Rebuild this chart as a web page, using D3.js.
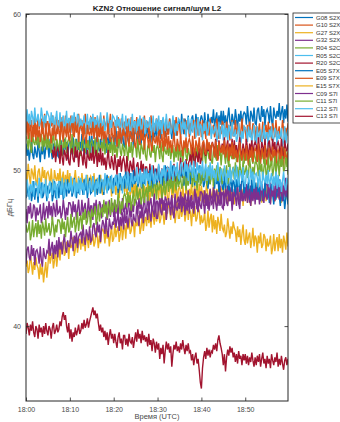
<!DOCTYPE html>
<html>
<head>
<meta charset="utf-8">
<script src="https://cdn.jsdelivr.net/npm/d3@7"></script>
<style>
  html, body { margin: 0; padding: 0; background: #fff; }
  svg { display: block; font-family: "Liberation Sans", Arial, sans-serif; }
</style>
</head>
<body>
<svg id="chart" width="340" height="422"></svg>
<script>
// KZN2 station, L2 signal-to-noise per satellite/signal, 18:00–19:00 UTC
const seriesNames = ["G08 S2X","G10 S2X","G27 S2X","G32 S2X","R04 S2C","R05 S2C","R20 S2C",
                     "E05 S7X","E09 S7X","E15 S7X","C09 S7I","C11 S7I","C12 S7I","C13 S7I"];
const seriesColors = ["#0072BD","#D95319","#EDB120","#7E2F8E","#77AC30","#4DBEEE","#A2142F",
                      "#0072BD","#D95319","#EDB120","#7E2F8E","#77AC30","#4DBEEE","#A2142F"];
const xTickLabels = ["18:00","18:10","18:20","18:30","18:40","18:50"];
const xTickMinutes = [0,10,20,30,40,50];
const yTickValues = [40,50,60];
const sampleStepMin = 0.25;   // one sample every 15 s

// dB-Hz, one value per 15 s from 18:00 (one row = 2.5 min)
const G08 = [
51.7,50.9,51.4,50.6,51.3,51.9,51.0,50.7,51.5,51.1, 50.8,51.8,51.2,50.5,51.5,51.0,51.7,50.7,51.4,51.6,
51.5,50.8,52.0,51.2,50.7,51.7,51.4,51.0,51.9,50.9, 50.8,51.7,51.9,51.2,51.0,52.0,51.3,51.8,50.7,51.6,
51.9,51.6,51.0,52.1,51.2,50.8,52.0,51.5,51.3,51.8, 51.4,52.3,51.2,51.7,52.1,51.0,51.9,51.3,52.2,51.1,
52.2,51.4,51.9,51.1,51.8,52.4,51.5,51.2,52.0,51.6, 51.4,52.4,51.8,51.1,52.1,51.6,52.3,51.3,52.0,52.2,
52.2,51.5,52.7,51.9,51.4,52.4,52.1,51.7,52.6,51.6, 51.5,52.4,52.6,51.9,51.7,52.7,52.0,52.5,51.4,52.3,
52.7,52.4,51.8,52.9,52.0,51.6,52.8,52.3,52.1,52.6, 52.2,53.1,52.0,52.5,52.9,51.8,52.7,52.1,53.0,51.9,
53.1,52.3,52.8,52.0,52.7,53.3,52.4,52.1,52.9,52.5, 52.3,53.3,52.7,52.0,53.0,52.5,53.2,52.2,52.9,53.1,
53.1,52.4,53.6,52.8,52.3,53.3,53.0,52.6,53.5,52.5, 52.4,53.3,53.5,52.8,52.6,53.6,52.9,53.4,52.3,53.2,
53.5,53.2,52.6,53.7,52.8,52.4,53.6,53.1,52.9,53.4, 53.0,53.9,52.8,53.3,53.7,52.6,53.5,52.9,53.8,52.7,
53.8,53.0,53.5,52.7,53.4,54.0,53.1,52.8,53.6,53.2, 52.9,53.9,53.3,52.6,53.6,53.1,53.8,52.8,53.5,53.7,
53.6,52.9,54.1,53.3,52.8,53.8,53.5,53.1,54.0,53.0, 52.9,53.8,54.0,53.3,53.1,54.1,53.4,53.9,52.8,53.7,
53.9,53.6,53.0,54.1,53.2,52.8,54.0,53.5,53.3,53.8, 53.4,54.3,53.2,53.7,54.1,53.0,53.9,53.3,54.2,53.1];
const G10 = [
53.3,53.1,52.4,53.4,52.7,53.2,52.2,52.9,53.5,52.5, 52.5,53.5,52.6,53.0,53.3,52.3,52.8,53.6,52.4,53.1,
53.1,52.2,53.3,52.8,53.5,52.5,52.7,53.4,53.2,52.3, 53.2,52.7,52.9,53.4,52.2,52.6,53.5,52.4,53.0,53.3,
52.4,53.5,52.6,53.2,52.3,53.4,53.0,52.5,53.6,52.7, 52.8,53.2,52.4,52.7,53.6,53.0,52.3,53.1,52.6,53.4,
53.3,53.1,52.4,53.4,52.7,53.2,52.2,52.9,53.5,52.5, 52.5,53.5,52.6,53.0,53.3,52.3,52.8,53.6,52.4,53.1,
53.0,52.1,53.2,52.7,53.4,52.4,52.6,53.3,53.1,52.2, 53.1,52.6,52.8,53.3,52.1,52.5,53.4,52.3,52.9,53.2,
52.3,53.4,52.5,53.1,52.2,53.3,52.9,52.4,53.5,52.6, 52.7,53.1,52.3,52.6,53.5,52.9,52.2,53.0,52.5,53.3,
53.1,52.9,52.2,53.2,52.5,53.0,52.0,52.7,53.3,52.3, 52.3,53.3,52.4,52.8,53.1,52.1,52.6,53.4,52.2,52.9,
52.9,52.0,53.1,52.6,53.3,52.3,52.5,53.2,53.0,52.1, 53.0,52.5,52.7,53.2,52.0,52.4,53.3,52.2,52.8,53.1,
52.1,53.2,52.3,52.9,52.0,53.1,52.7,52.2,53.3,52.4, 52.5,52.9,52.1,52.4,53.3,52.7,52.0,52.8,52.3,53.1,
53.0,52.8,52.1,53.1,52.4,52.9,51.9,52.6,53.2,52.2, 52.2,53.2,52.3,52.7,53.0,52.0,52.5,53.3,52.1,52.8,
52.7,51.8,52.9,52.4,53.1,52.1,52.3,53.0,52.8,51.9, 52.8,52.3,52.5,53.0,51.8,52.2,53.1,52.0,52.6,52.9,
52.0,53.1,52.2,52.8,51.9,53.0,52.6,52.1,53.2,52.3, 52.4,52.8,52.0,52.3,53.2,52.6,51.9,52.7,52.2,53.0];
const G27 = [
49.9,49.2,50.4,49.6,49.1,50.1,49.8,49.4,50.3,49.3, 49.0,49.9,50.1,49.4,49.2,50.2,49.5,50.0,48.9,49.8,
49.9,49.6,49.0,50.1,49.2,48.8,50.0,49.5,49.3,49.8, 49.2,50.1,49.0,49.5,49.9,48.8,49.7,49.1,50.0,48.9,
49.8,49.0,49.5,48.7,49.4,50.0,49.1,48.8,49.6,49.2, 48.8,49.8,49.2,48.5,49.5,49.0,49.7,48.7,49.4,49.6,
49.3,48.6,49.8,49.0,48.5,49.5,49.2,48.8,49.7,48.7, 48.4,49.3,49.5,48.8,48.6,49.6,48.9,49.4,48.3,49.2,
49.3,49.0,48.4,49.5,48.6,48.2,49.4,48.9,48.7,49.2, 48.6,49.5,48.4,48.9,49.3,48.2,49.1,48.5,49.4,48.3,
49.2,48.4,48.9,48.1,48.8,49.4,48.5,48.2,49.0,48.6, 48.3,49.3,48.7,48.0,49.0,48.5,49.2,48.2,48.9,49.1,
48.8,48.1,49.3,48.5,48.0,49.0,48.7,48.3,49.2,48.2, 48.0,48.9,49.1,48.4,48.2,49.2,48.5,49.0,47.9,48.8,
48.9,48.6,48.0,49.1,48.2,47.8,49.0,48.5,48.3,48.8, 48.3,49.2,48.1,48.6,49.0,47.9,48.8,48.2,49.1,48.0,
49.0,48.2,48.7,47.9,48.6,49.2,48.3,48.0,48.8,48.4, 48.1,49.1,48.5,47.8,48.8,48.3,49.0,48.0,48.7,48.9,
48.6,47.9,49.1,48.3,47.8,48.8,48.5,48.1,49.0,48.0, 47.8,48.7,48.9,48.2,48.0,49.0,48.3,48.8,47.7,48.6,
48.8,48.5,47.9,49.0,48.1,47.7,48.9,48.4,48.2,48.7, 48.3,49.2,48.1,48.6,49.0,47.9,48.8,48.2,49.1,48.0,
49.0,48.2,48.7,47.9,48.6,49.2,48.3,48.0,48.8,48.4, 48.2,49.2,48.6,47.9,48.9,48.4,49.1,48.1,48.8,49.0];
const G32 = [
47.5,46.6,47.7,47.2,47.9,46.9,47.1,47.8,47.6,46.7, 47.6,47.1,47.3,47.8,46.6,47.0,47.9,46.8,47.4,47.7,
46.9,48.0,47.1,47.7,46.8,47.9,47.5,47.0,48.1,47.2, 47.3,47.7,46.9,47.2,48.1,47.5,46.8,47.6,47.1,47.9,
47.9,47.7,47.0,48.0,47.3,47.8,46.8,47.5,48.1,47.1, 47.1,48.1,47.2,47.6,47.9,46.9,47.4,48.2,47.0,47.7,
47.7,46.8,47.9,47.4,48.1,47.1,47.3,48.0,47.8,46.9, 47.8,47.3,47.5,48.0,46.8,47.2,48.1,47.0,47.6,47.9,
47.0,48.1,47.2,47.8,46.9,48.0,47.6,47.1,48.2,47.3, 47.5,47.9,47.1,47.4,48.3,47.7,47.0,47.8,47.3,48.1,
48.1,47.9,47.2,48.2,47.5,48.0,47.0,47.7,48.3,47.3, 47.4,48.4,47.5,47.9,48.2,47.2,47.7,48.5,47.3,48.0,
48.0,47.1,48.2,47.7,48.4,47.4,47.6,48.3,48.1,47.2, 48.2,47.7,47.9,48.4,47.2,47.6,48.5,47.4,48.0,48.3,
47.5,48.6,47.7,48.3,47.4,48.5,48.1,47.6,48.7,47.8, 48.0,48.4,47.6,47.9,48.8,48.2,47.5,48.3,47.8,48.6,
48.6,48.4,47.7,48.7,48.0,48.5,47.5,48.2,48.8,47.8, 47.9,48.9,48.0,48.4,48.7,47.7,48.2,49.0,47.8,48.5,
48.6,47.7,48.8,48.3,49.0,48.0,48.2,48.9,48.7,47.8, 48.8,48.3,48.5,49.0,47.8,48.2,49.1,48.0,48.6,48.9,
48.0,49.1,48.2,48.8,47.9,49.0,48.6,48.1,49.2,48.3, 48.5,48.9,48.1,48.4,49.3,48.7,48.0,48.8,48.3,49.1,
49.1,48.9,48.2,49.2,48.5,49.0,48.0,48.7,49.3,48.3, 48.4,49.4,48.5,48.9,49.2,48.2,48.7,49.5,48.3,49.0];
const R04 = [
52.2,51.9,51.3,52.4,51.5,51.1,52.3,51.8,51.6,52.1, 51.6,52.5,51.4,51.9,52.3,51.2,52.1,51.5,52.4,51.3,
52.2,51.4,51.9,51.1,51.8,52.4,51.5,51.2,52.0,51.6, 51.2,52.2,51.6,50.9,51.9,51.4,52.1,51.1,51.8,52.0,
51.8,51.1,52.3,51.5,51.0,52.0,51.7,51.3,52.2,51.2, 50.9,51.8,52.0,51.3,51.1,52.1,51.4,51.9,50.8,51.7,
51.9,51.6,51.0,52.1,51.2,50.8,52.0,51.5,51.3,51.8, 51.2,52.1,51.0,51.5,51.9,50.8,51.7,51.1,52.0,50.9,
51.9,51.1,51.6,50.8,51.5,52.1,51.2,50.9,51.7,51.3, 50.9,51.9,51.3,50.6,51.6,51.1,51.8,50.8,51.5,51.7,
51.5,50.8,52.0,51.2,50.7,51.7,51.4,51.0,51.9,50.9, 50.6,51.5,51.7,51.0,50.8,51.8,51.1,51.6,50.5,51.4,
51.6,51.3,50.7,51.8,50.9,50.5,51.7,51.2,51.0,51.5, 50.9,51.8,50.7,51.2,51.6,50.5,51.4,50.8,51.7,50.6,
51.6,50.8,51.3,50.5,51.2,51.8,50.9,50.6,51.4,51.0, 50.6,51.6,51.0,50.3,51.3,50.8,51.5,50.5,51.2,51.4,
51.2,50.5,51.7,50.9,50.4,51.4,51.1,50.7,51.6,50.6, 50.4,51.3,51.5,50.8,50.6,51.6,50.9,51.4,50.3,51.2,
51.3,51.0,50.4,51.5,50.6,50.2,51.4,50.9,50.7,51.2, 50.7,51.6,50.5,51.0,51.4,50.3,51.2,50.6,51.5,50.4,
51.4,50.6,51.1,50.3,51.0,51.6,50.7,50.4,51.2,50.8, 50.5,51.5,50.9,50.2,51.2,50.7,51.4,50.4,51.1,51.3,
51.1,50.4,51.6,50.8,50.3,51.3,51.0,50.6,51.5,50.5, 50.3,51.2,51.4,50.7,50.5,51.5,50.8,51.3,50.2,51.1];
const R05 = [
52.8,53.9,53.0,53.6,52.7,53.8,53.4,52.9,54.0,53.1, 53.2,53.6,52.8,53.1,54.0,53.4,52.7,53.5,53.0,53.8,
53.6,53.4,52.7,53.7,53.0,53.5,52.5,53.2,53.8,52.8, 52.7,53.7,52.8,53.2,53.5,52.5,53.0,53.8,52.6,53.3,
53.3,52.4,53.5,53.0,53.7,52.7,52.9,53.6,53.4,52.5, 53.3,52.8,53.0,53.5,52.3,52.7,53.6,52.5,53.1,53.4,
52.5,53.6,52.7,53.3,52.4,53.5,53.1,52.6,53.7,52.8, 52.9,53.3,52.5,52.8,53.7,53.1,52.4,53.2,52.7,53.5,
53.4,53.2,52.5,53.5,52.8,53.3,52.3,53.0,53.6,52.6, 52.5,53.5,52.6,53.0,53.3,52.3,52.8,53.6,52.4,53.1,
53.1,52.2,53.3,52.8,53.5,52.5,52.7,53.4,53.2,52.3, 53.2,52.7,52.9,53.4,52.2,52.6,53.5,52.4,53.0,53.3,
52.4,53.5,52.6,53.2,52.3,53.4,53.0,52.5,53.6,52.7, 52.7,53.1,52.3,52.6,53.5,52.9,52.2,53.0,52.5,53.3,
53.2,53.0,52.3,53.3,52.6,53.1,52.1,52.8,53.4,52.4, 52.3,53.3,52.4,52.8,53.1,52.1,52.6,53.4,52.2,52.9,
52.8,51.9,53.0,52.5,53.2,52.2,52.4,53.1,52.9,52.0, 52.8,52.3,52.5,53.0,51.8,52.2,53.1,52.0,52.6,52.9,
51.9,53.0,52.1,52.7,51.8,52.9,52.5,52.0,53.1,52.2, 52.2,52.6,51.8,52.1,53.0,52.4,51.7,52.5,52.0,52.8,
52.7,52.5,51.8,52.8,52.1,52.6,51.6,52.3,52.9,51.9, 51.8,52.8,51.9,52.3,52.6,51.6,52.1,52.9,51.7,52.4,
52.4,51.5,52.6,52.1,52.8,51.8,52.0,52.7,52.5,51.6, 52.5,52.0,52.2,52.7,51.5,51.9,52.8,51.7,52.3,52.6];
const R20 = [
null,null,null,null,null,null,null,null,null,null, null,null,null,null,null,null,null,null,null,null,
null,null,null,null,51.3,50.8,51.5,50.5,51.2,51.4, 51.1,50.4,51.6,50.8,50.3,51.3,51.0,50.6,51.5,50.5,
50.3,51.2,51.4,50.7,50.5,51.5,50.8,51.3,50.2,51.1, 51.2,50.9,50.3,51.4,50.5,50.1,51.3,50.8,50.6,51.1,
50.6,51.5,50.4,50.9,51.3,50.2,51.1,50.5,51.4,50.3, 51.1,50.3,50.8,50.0,50.7,51.3,50.4,50.1,50.9,50.5,
50.0,51.0,50.4,49.7,50.7,50.2,50.9,49.9,50.6,50.8, 50.4,49.7,50.9,50.1,49.6,50.6,50.3,49.9,50.8,49.8,
49.4,50.3,50.5,49.8,49.6,50.6,49.9,50.4,49.3,50.2, 50.2,49.9,49.3,50.4,49.5,49.1,50.3,49.8,49.6,50.1,
49.4,50.3,49.2,49.7,50.1,49.0,49.9,49.3,50.2,49.1, 50.2,49.4,49.9,49.1,49.8,50.4,49.5,49.2,50.0,49.6,
49.8,50.8,50.2,49.5,50.5,50.0,50.7,49.7,50.4,50.6, 51.0,50.3,51.5,50.7,50.2,51.2,50.9,50.5,51.4,50.4,
50.7,51.6,51.8,51.1,50.9,51.9,51.2,51.7,50.6,51.5, 51.8,51.5,50.9,52.0,51.1,50.7,51.9,51.4,51.2,51.7,
51.2,52.1,51.0,51.5,51.9,50.8,51.7,51.1,52.0,50.9, 51.9,51.1,51.6,50.8,51.5,52.1,51.2,50.9,51.7,51.3,
51.0,52.0,51.4,50.7,51.7,51.2,51.9,50.9,51.6,51.8, 51.6,50.9,52.1,51.3,50.8,51.8,51.5,51.1,52.0,51.0,
50.8,51.7,51.9,51.2,51.0,52.0,51.3,51.8,50.7,51.6, 51.8,51.5,50.9,52.0,51.1,50.7,51.9,51.4,51.2,51.7];
const E05 = [
48.2,49.2,48.3,48.7,49.0,48.0,48.5,49.3,48.1,48.8, 48.8,47.9,49.0,48.5,49.2,48.2,48.4,49.1,48.9,48.0,
49.0,48.5,48.7,49.2,48.0,48.4,49.3,48.2,48.8,49.1, 48.2,49.3,48.4,49.0,48.1,49.2,48.8,48.3,49.4,48.5,
48.7,49.1,48.3,48.6,49.5,48.9,48.2,49.0,48.5,49.3, 49.3,49.1,48.4,49.4,48.7,49.2,48.2,48.9,49.5,48.5,
48.6,49.6,48.7,49.1,49.4,48.4,48.9,49.7,48.5,49.2, 49.3,48.4,49.5,49.0,49.7,48.7,48.9,49.6,49.4,48.5,
49.5,49.0,49.2,49.7,48.5,48.9,49.8,48.7,49.3,49.6, 48.8,49.9,49.0,49.6,48.7,49.8,49.4,48.9,50.0,49.1,
49.3,49.7,48.9,49.2,50.1,49.5,48.8,49.6,49.1,49.9, 49.9,49.7,49.0,50.0,49.3,49.8,48.8,49.5,50.1,49.1,
49.2,50.2,49.3,49.7,50.0,49.0,49.5,50.3,49.1,49.8, 49.9,49.0,50.1,49.6,50.3,49.3,49.5,50.2,50.0,49.1,
50.0,49.5,49.7,50.2,49.0,49.4,50.3,49.2,49.8,50.1, 49.1,50.2,49.3,49.9,49.0,50.1,49.7,49.2,50.3,49.4,
49.3,49.7,48.9,49.2,50.1,49.5,48.8,49.6,49.1,49.9, 49.7,49.5,48.8,49.8,49.1,49.6,48.6,49.3,49.9,48.9,
48.7,49.7,48.8,49.2,49.5,48.5,49.0,49.8,48.6,49.3, 49.2,48.3,49.4,48.9,49.6,48.6,48.8,49.5,49.3,48.4,
49.1,48.6,48.8,49.3,48.1,48.5,49.4,48.3,48.9,49.2, 48.1,49.2,48.3,48.9,48.0,49.1,48.7,48.2,49.3,48.4,
48.3,48.7,47.9,48.2,49.1,48.5,47.8,48.6,48.1,48.9, 48.6,48.4,47.7,48.7,48.0,48.5,47.5,48.2,48.8,47.8];
const E09 = [
52.2,53.1,52.0,52.5,52.9,51.8,52.7,52.1,53.0,51.9, 52.9,52.1,52.6,51.8,52.5,53.1,52.2,51.9,52.7,52.3,
52.0,53.0,52.4,51.7,52.7,52.2,52.9,51.9,52.6,52.8, 52.6,51.9,53.1,52.3,51.8,52.8,52.5,52.1,53.0,52.0,
51.9,52.8,53.0,52.3,52.1,53.1,52.4,52.9,51.8,52.7, 52.8,52.5,51.9,53.0,52.1,51.7,52.9,52.4,52.2,52.7,
52.2,53.1,52.0,52.5,52.9,51.8,52.7,52.1,53.0,51.9, 52.8,52.0,52.5,51.7,52.4,53.0,52.1,51.8,52.6,52.2,
51.8,52.8,52.2,51.5,52.5,52.0,52.7,51.7,52.4,52.6, 52.3,51.6,52.8,52.0,51.5,52.5,52.2,51.8,52.7,51.7,
51.4,52.3,52.5,51.8,51.6,52.6,51.9,52.4,51.3,52.2, 52.3,52.0,51.4,52.5,51.6,51.2,52.4,51.9,51.7,52.2,
51.6,52.5,51.4,51.9,52.3,51.2,52.1,51.5,52.4,51.3, 52.2,51.4,51.9,51.1,51.8,52.4,51.5,51.2,52.0,51.6,
51.2,52.2,51.6,50.9,51.9,51.4,52.1,51.1,51.8,52.0, 51.7,51.0,52.2,51.4,50.9,51.9,51.6,51.2,52.1,51.1,
50.8,51.7,51.9,51.2,51.0,52.0,51.3,51.8,50.7,51.6, 51.7,51.4,50.8,51.9,51.0,50.6,51.8,51.3,51.1,51.6,
51.0,51.9,50.8,51.3,51.7,50.6,51.5,50.9,51.8,50.7, 51.6,50.8,51.3,50.5,51.2,51.8,50.9,50.6,51.4,51.0,
50.6,51.6,51.0,50.3,51.3,50.8,51.5,50.5,51.2,51.4, 51.2,50.5,51.7,50.9,50.4,51.4,51.1,50.7,51.6,50.6,
50.3,51.2,51.4,50.7,50.5,51.5,50.8,51.3,50.2,51.1, 51.3,51.0,50.4,51.5,50.6,50.2,51.4,50.9,50.7,51.2];
const E15 = [
43.8,44.2,43.4,43.7,44.6,44.0,43.3,44.1,43.6,44.4, 43.9,43.7,43.0,44.0,43.3,43.8,42.8,43.5,44.1,43.1,
43.9,44.9,44.0,44.4,44.7,43.7,44.2,45.0,43.8,44.5, 45.1,44.2,45.3,44.8,45.5,44.5,44.7,45.4,45.2,44.3,
45.5,45.0,45.2,45.7,44.5,44.9,45.8,44.7,45.3,45.6, 44.9,46.0,45.1,45.7,44.8,45.9,45.5,45.0,46.1,45.2,
45.5,45.9,45.1,45.4,46.3,45.7,45.0,45.8,45.3,46.1, 46.2,46.0,45.3,46.3,45.6,46.1,45.1,45.8,46.4,45.4,
45.6,46.6,45.7,46.1,46.4,45.4,45.9,46.7,45.5,46.2, 46.5,45.6,46.7,46.2,46.9,45.9,46.1,46.8,46.6,45.7,
46.9,46.4,46.6,47.1,45.9,46.3,47.2,46.1,46.7,47.0, 46.4,47.5,46.6,47.2,46.3,47.4,47.0,46.5,47.6,46.7,
47.0,47.4,46.6,46.9,47.8,47.2,46.5,47.3,46.8,47.6, 47.7,47.5,46.8,47.8,47.1,47.6,46.6,47.3,47.9,46.9,
46.9,47.9,47.0,47.4,47.7,46.7,47.2,48.0,46.8,47.5, 47.3,46.4,47.5,47.0,47.7,46.7,46.9,47.6,47.4,46.5,
47.1,46.6,46.8,47.3,46.1,46.5,47.4,46.3,46.9,47.2, 46.0,47.1,46.2,46.8,45.9,47.0,46.6,46.1,47.2,46.3,
46.1,46.5,45.7,46.0,46.9,46.3,45.6,46.4,45.9,46.7, 46.3,46.1,45.4,46.4,45.7,46.2,45.2,45.9,46.5,45.5,
45.2,46.2,45.3,45.7,46.0,45.0,45.5,46.3,45.1,45.8, 45.6,44.7,45.8,45.3,46.0,45.0,45.2,45.9,45.7,44.8,
45.6,45.1,45.3,45.8,44.6,45.0,45.9,44.8,45.4,45.7, 44.8,45.9,45.0,45.6,44.7,45.8,45.4,44.9,46.0,45.1];
const C09 = [
44.0,44.9,45.1,44.4,44.2,45.2,44.5,45.0,43.9,44.8, 44.9,44.6,44.0,45.1,44.2,43.8,45.0,44.5,44.3,44.8,
44.7,45.6,44.5,45.0,45.4,44.3,45.2,44.6,45.5,44.4, 45.7,44.9,45.4,44.6,45.3,45.9,45.0,44.7,45.5,45.1,
45.1,46.1,45.5,44.8,45.8,45.3,46.0,45.0,45.7,45.9, 46.0,45.3,46.5,45.7,45.2,46.2,45.9,45.5,46.4,45.4,
45.5,46.4,46.6,45.9,45.7,46.7,46.0,46.5,45.4,46.3, 46.8,46.5,45.9,47.0,46.1,45.7,46.9,46.4,46.2,46.7,
46.5,47.4,46.3,46.8,47.2,46.1,47.0,46.4,47.3,46.2, 47.4,46.6,47.1,46.3,47.0,47.6,46.7,46.4,47.2,46.8,
46.7,47.7,47.1,46.4,47.4,46.9,47.6,46.6,47.3,47.5, 47.5,46.8,48.0,47.2,46.7,47.7,47.4,47.0,47.9,46.9,
46.9,47.8,48.0,47.3,47.1,48.1,47.4,47.9,46.8,47.7, 48.0,47.7,47.1,48.2,47.3,46.9,48.1,47.6,47.4,47.9,
47.5,48.4,47.3,47.8,48.2,47.1,48.0,47.4,48.3,47.2, 48.3,47.5,48.0,47.2,47.9,48.5,47.6,47.3,48.1,47.7,
47.5,48.5,47.9,47.2,48.2,47.7,48.4,47.4,48.1,48.3, 48.2,47.5,48.7,47.9,47.4,48.4,48.1,47.7,48.6,47.6,
47.5,48.4,48.6,47.9,47.7,48.7,48.0,48.5,47.4,48.3, 48.6,48.3,47.7,48.8,47.9,47.5,48.7,48.2,48.0,48.5,
48.1,49.0,47.9,48.4,48.8,47.7,48.6,48.0,48.9,47.8, 48.9,48.1,48.6,47.8,48.5,49.1,48.2,47.9,48.7,48.3,
48.1,49.1,48.5,47.8,48.8,48.3,49.0,48.0,48.7,48.9, 48.8,48.1,49.3,48.5,48.0,49.0,48.7,48.3,49.2,48.2];
const C11 = [
46.5,46.0,46.2,46.7,45.5,45.9,46.8,45.7,46.3,46.6, 45.7,46.8,45.9,46.5,45.6,46.7,46.3,45.8,46.9,46.0,
46.2,46.6,45.8,46.1,47.0,46.4,45.7,46.5,46.0,46.8, 46.8,46.6,45.9,46.9,46.2,46.7,45.7,46.4,47.0,46.0,
46.2,47.2,46.3,46.7,47.0,46.0,46.5,47.3,46.1,46.8, 47.1,46.2,47.3,46.8,47.5,46.5,46.7,47.4,47.2,46.3,
47.5,47.0,47.2,47.7,46.5,46.9,47.8,46.7,47.3,47.6, 47.0,48.1,47.2,47.8,46.9,48.0,47.6,47.1,48.2,47.3,
47.7,48.1,47.3,47.6,48.5,47.9,47.2,48.0,47.5,48.3, 48.5,48.3,47.6,48.6,47.9,48.4,47.4,48.1,48.7,47.7,
48.0,49.0,48.1,48.5,48.8,47.8,48.3,49.1,47.9,48.6, 48.9,48.0,49.1,48.6,49.3,48.3,48.5,49.2,49.0,48.1,
49.2,48.7,48.9,49.4,48.2,48.6,49.5,48.4,49.0,49.3, 48.6,49.7,48.8,49.4,48.5,49.6,49.2,48.7,49.8,48.9,
49.2,49.6,48.8,49.1,50.0,49.4,48.7,49.5,49.0,49.8, 49.8,49.6,48.9,49.9,49.2,49.7,48.7,49.4,50.0,49.0,
49.2,50.2,49.3,49.7,50.0,49.0,49.5,50.3,49.1,49.8, 49.9,49.0,50.1,49.6,50.3,49.3,49.5,50.2,50.0,49.1,
50.1,49.6,49.8,50.3,49.1,49.5,50.4,49.3,49.9,50.2, 49.4,50.5,49.6,50.2,49.3,50.4,50.0,49.5,50.6,49.7,
49.9,50.3,49.5,49.8,50.7,50.1,49.4,50.2,49.7,50.5, 50.5,50.3,49.6,50.6,49.9,50.4,49.4,50.1,50.7,49.7,
49.8,50.8,49.9,50.3,50.6,49.6,50.1,50.9,49.7,50.4, 50.5,49.6,50.7,50.2,50.9,49.9,50.1,50.8,50.6,49.7];
const C12 = [
48.4,49.4,48.8,48.1,49.1,48.6,49.3,48.3,49.0,49.2, 49.0,48.3,49.5,48.7,48.2,49.2,48.9,48.5,49.4,48.4,
48.2,49.1,49.3,48.6,48.4,49.4,48.7,49.2,48.1,49.0, 49.3,49.0,48.4,49.5,48.6,48.2,49.4,48.9,48.7,49.2,
48.7,49.6,48.5,49.0,49.4,48.3,49.2,48.6,49.5,48.4, 49.5,48.7,49.2,48.4,49.1,49.7,48.8,48.5,49.3,48.9,
48.6,49.6,49.0,48.3,49.3,48.8,49.5,48.5,49.2,49.4, 49.3,48.6,49.8,49.0,48.5,49.5,49.2,48.8,49.7,48.7,
48.6,49.5,49.7,49.0,48.8,49.8,49.1,49.6,48.5,49.4, 49.7,49.4,48.8,49.9,49.0,48.6,49.8,49.3,49.1,49.6,
49.3,50.2,49.1,49.6,50.0,48.9,49.8,49.2,50.1,49.0, 50.1,49.3,49.8,49.0,49.7,50.3,49.4,49.1,49.9,49.5,
49.4,50.4,49.8,49.1,50.1,49.6,50.3,49.3,50.0,50.2, 50.1,49.4,50.6,49.8,49.3,50.3,50.0,49.6,50.5,49.5,
49.4,50.3,50.5,49.8,49.6,50.6,49.9,50.4,49.3,50.2, 50.4,50.1,49.5,50.6,49.7,49.3,50.5,50.0,49.8,50.3,
49.7,50.6,49.5,50.0,50.4,49.3,50.2,49.6,50.5,49.4, 50.3,49.5,50.0,49.2,49.9,50.5,49.6,49.3,50.1,49.7,
49.3,50.3,49.7,49.0,50.0,49.5,50.2,49.2,49.9,50.1, 49.8,49.1,50.3,49.5,49.0,50.0,49.7,49.3,50.2,49.2,
48.9,49.8,50.0,49.3,49.1,50.1,49.4,49.9,48.8,49.7, 49.8,49.5,48.9,50.0,49.1,48.7,49.9,49.4,49.2,49.7,
49.1,50.0,48.9,49.4,49.8,48.7,49.6,49.0,49.9,48.8, 49.7,48.9,49.4,48.6,49.3,49.9,49.0,48.7,49.5,49.1];
const C13 = [
39.5,40.2,39.9,39.4,40.1,39.7,40.3,39.6,39.3,40.0, 39.8,39.2,40.1,39.6,39.9,39.3,40.0,39.5,40.2,39.7,
39.4,40.0,39.8,39.2,39.9,40.2,39.5,39.7,40.1,39.6, 39.8,40.3,40.0,40.6,40.9,40.4,40.7,40.0,39.6,40.2,
39.2,39.8,39.0,39.6,39.3,39.9,39.4,39.7,40.1,39.5, 39.7,40.2,39.8,40.4,39.9,40.1,40.5,39.9,40.3,40.6,
40.9,41.2,40.7,41.0,40.5,40.8,40.2,39.7,40.1,39.6, 39.9,39.3,39.7,39.1,39.6,38.8,39.4,39.8,39.2,39.5,
38.9,39.5,39.0,38.6,39.3,39.6,38.9,39.2,38.5,39.4, 39.4,38.8,39.2,38.7,39.5,39.0,38.9,39.3,38.6,39.1,
39.6,39.0,39.8,39.2,39.5,38.9,39.7,39.1,39.4,39.0, 39.3,38.7,39.5,38.8,39.1,38.4,39.2,38.9,38.3,39.0,
38.5,38.9,37.9,38.6,38.2,38.8,37.6,38.4,39.0,38.5, 38.9,38.3,38.7,37.4,38.2,38.8,38.5,39.0,38.4,38.7,
38.3,38.9,38.5,39.1,38.6,38.2,38.8,38.4,38.9,38.3, 38.4,37.8,38.2,37.5,38.0,38.3,37.6,37.9,37.2,36.4,
36.0,37.3,38.0,38.4,37.9,38.6,38.1,38.5,38.0,38.4, 38.3,38.8,38.5,38.9,38.4,39.1,39.4,38.9,38.6,38.2,
37.5,38.2,37.1,38.0,38.5,38.1,38.7,38.3,38.6,38.0, 38.3,37.7,38.2,37.6,38.4,37.9,38.1,37.5,38.2,37.8,
38.2,37.6,38.1,37.5,38.0,37.7,38.3,37.8,37.4,38.0, 37.5,38.1,37.7,38.2,37.4,37.9,38.3,37.6,37.9,37.3,
38.1,37.6,37.9,37.3,38.2,37.8,37.5,38.0,37.7,38.3, 37.4,37.9,37.5,38.1,37.6,37.2,37.8,38.0,37.5,37.9];

const seriesValues = [G08,G10,G27,G32,R04,R05,R20,E05,E09,E15,C09,C11,C12,C13];

const svg = d3.select("#chart");
const plot = { left: 26, right: 288, top: 14, bottom: 401 };

const x = d3.scaleLinear().domain([0, 59.75]).range([plot.left, plot.right]);
const y = d3.scaleLinear().domain([35.2, 60]).range([plot.bottom, plot.top]);

const axisColor = "#262626";
const labelColor = "#4a4a4a";

// series lines, drawn in legend order so later ones sit on top
svg.append("clipPath").attr("id", "plotClip")
  .append("rect").attr("x", plot.left).attr("y", plot.top)
  .attr("width", plot.right - plot.left).attr("height", plot.bottom - plot.top);

const line = d3.line()
  .defined(d => d.v !== null)
  .x(d => x(d.t))
  .y(d => y(d.v));

const gLines = svg.append("g").attr("clip-path", "url(#plotClip)");
seriesValues.forEach((vals, i) => {
  const pts = vals.map((v, k) => ({ t: k * sampleStepMin, v }));
  gLines.append("path")
    .datum(pts)
    .attr("fill", "none")
    .attr("stroke", seriesColors[i])
    .attr("stroke-width", 1.4)
    .attr("stroke-linejoin", "miter")
    .attr("d", line);
});

// axes: box with inward ticks on all four sides
const tickLen = 3.5;
const xAxisB = d3.axisBottom(x).tickValues(xTickMinutes)
  .tickFormat((d, i) => xTickLabels[i]).tickSizeInner(-tickLen).tickSizeOuter(0).tickPadding(6);
const xAxisT = d3.axisTop(x).tickValues(xTickMinutes)
  .tickFormat("").tickSizeInner(-tickLen).tickSizeOuter(0);
const yAxisL = d3.axisLeft(y).tickValues(yTickValues)
  .tickSizeInner(-tickLen).tickSizeOuter(0).tickPadding(5);
const yAxisR = d3.axisRight(y).tickValues(yTickValues)
  .tickFormat("").tickSizeInner(-tickLen).tickSizeOuter(0);

function styleAxis(g) {
  g.select(".domain").remove();
  g.selectAll(".tick line").attr("stroke", axisColor).attr("stroke-width", 0.8);
  g.selectAll(".tick text").attr("fill", labelColor).attr("font-size", 7)
    .attr("font-family", "'Liberation Sans', Arial, sans-serif");
}

svg.append("g").attr("transform", `translate(0,${plot.bottom})`).call(xAxisB).call(styleAxis);
svg.append("g").attr("transform", `translate(0,${plot.top})`).call(xAxisT).call(styleAxis);
svg.append("g").attr("transform", `translate(${plot.left},0)`).call(yAxisL).call(styleAxis);
svg.append("g").attr("transform", `translate(${plot.right},0)`).call(yAxisR).call(styleAxis);

svg.append("rect")
  .attr("x", plot.left).attr("y", plot.top)
  .attr("width", plot.right - plot.left).attr("height", plot.bottom - plot.top)
  .attr("fill", "none").attr("stroke", axisColor).attr("stroke-width", 1);

// title and axis labels
svg.append("text")
  .attr("x", (plot.left + plot.right) / 2).attr("y", 11)
  .attr("text-anchor", "middle").attr("font-size", 8).attr("font-weight", "bold")
  .attr("fill", "#1a1a1a")
  .text("KZN2 Отношение сигнал/шум L2");

svg.append("text")
  .attr("x", (plot.left + plot.right) / 2).attr("y", 419)
  .attr("text-anchor", "middle").attr("font-size", 7.5).attr("fill", labelColor)
  .text("Время (UTC)");

svg.append("text")
  .attr("transform", `translate(12,${(plot.top + plot.bottom) / 2}) rotate(-90)`)
  .attr("text-anchor", "middle").attr("font-size", 7.5).attr("fill", labelColor)
  .text("дБГц");

// legend
const legend = svg.append("g").attr("transform", "translate(293,13)");
legend.append("rect")
  .attr("x", 0).attr("y", 0).attr("width", 60).attr("height", 110)
  .attr("fill", "#fff").attr("stroke", axisColor).attr("stroke-width", 0.8);
seriesNames.forEach((name, i) => {
  const ly = 4.5 + i * 7.6;
  legend.append("line")
    .attr("x1", 2).attr("x2", 20).attr("y1", ly).attr("y2", ly)
    .attr("stroke", seriesColors[i]).attr("stroke-width", 1.2);
  legend.append("text")
    .attr("x", 23).attr("y", ly + 2.1)
    .attr("font-size", 6).attr("fill", "#333")
    .text(name);
});
</script>
</body>
</html>
